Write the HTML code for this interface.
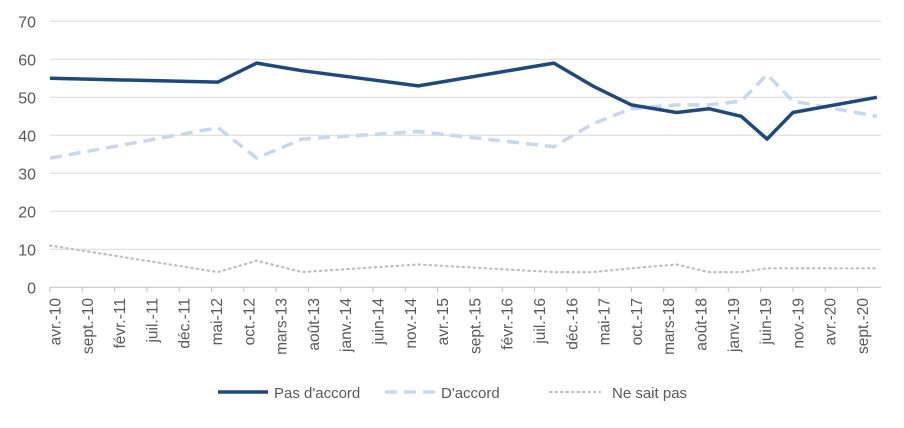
<!DOCTYPE html>
<html><head><meta charset="utf-8"><style>
body{margin:0;background:#fff;}
svg{font-family:"Liberation Sans",sans-serif;}
</style></head><body>
<svg width="904" height="423" id="chart"></svg>
<script>
const months=[0,26,32,39,57,78,84,90,97,102,107,111,115,128];
const pasAccord=[55,54,59,57,53,59,53,48,46,47,45,39,46,50];
const dAccord=[34,42,34,39,41,37,43,47,48,48,49,56,49,45];
const neSaitPas=[11,4,7,4,6,4,4,5,6,4,4,5,5,5];
const yTicks=[0,10,20,30,40,50,60,70];
const xLabels=["avr.-10","sept.-10","févr.-11","juil.-11","déc.-11","mai-12","oct.-12","mars-13","août-13","janv.-14","juin-14","nov.-14","avr.-15","sept.-15","févr.-16","juil.-16","déc.-16","mai-17","oct.-17","mars-18","août-18","janv.-19","juin-19","nov.-19","avr.-20","sept.-20"];
const NS="http://www.w3.org/2000/svg";
const svg=document.getElementById('chart');
const X=m=>50+m*6.46;
const Y=v=>287.3-v*3.8;
function mk(t,a){const e=document.createElementNS(NS,t);for(const k in a)e.setAttribute(k,a[k]);svg.appendChild(e);return e;}
yTicks.forEach(v=>{
  const g=mk('line',{x1:50,x2:881,y1:Y(v),y2:Y(v),stroke:v===0?'#bfbfbf':'#d9d9d9','stroke-width':1});
  
  
  const t=mk('text',{x:36,y:Y(v)+6,'text-anchor':'end','font-size':16,fill:'#595959'});
  t.textContent=v;
  
  
});
xLabels.forEach((l,i)=>{
  const x=X(i*5);
  const tk=mk('line',{x1:x,x2:x,y1:287.3,y2:292,stroke:'#bfbfbf'});
  
  
  const t=mk('text',{transform:`translate(${x+10.5},298) rotate(-90)`,'text-anchor':'end','font-size':15.5,fill:'#595959'});
  t.textContent=l;
  
  
});
function series(vals,name,style){
  const pts=months.map((m,i)=>X(m)+','+Y(vals[i])).join(' ');
  const p=mk('polyline',Object.assign({points:pts,fill:'none','stroke-linejoin':'round'},style));
  
  
}
series(neSaitPas,'series-ne-sait-pas',{stroke:'#bfbfbf','stroke-width':2.2,'stroke-dasharray':'1.5 4','stroke-linecap':'round'});
series(dAccord,'series-d-accord',{stroke:'#c5d8ef','stroke-width':3.5,'stroke-dasharray':'12 7'});
series(pasAccord,'series-pas-d-accord',{stroke:'#1f497d','stroke-width':3.5});
const leg=[[218,274,"Pas d'accord",{stroke:'#1f497d','stroke-width':3.5}],[385,441,"D'accord",{stroke:'#c5d8ef','stroke-width':3.5,'stroke-dasharray':'12 7'}],[550,612,"Ne sait pas",{stroke:'#bfbfbf','stroke-width':2.2,'stroke-dasharray':'1.5 4','stroke-linecap':'round'}]];
leg.forEach(([lx,tx,txt,st])=>{
  const l=mk('line',Object.assign({x1:lx,x2:lx+50,y1:392,y2:392},st));
  
  
  const t=mk('text',{x:tx,y:398,'font-size':15,fill:'#595959'});
  t.textContent=txt;
  
  
});
</script>
</body></html>
